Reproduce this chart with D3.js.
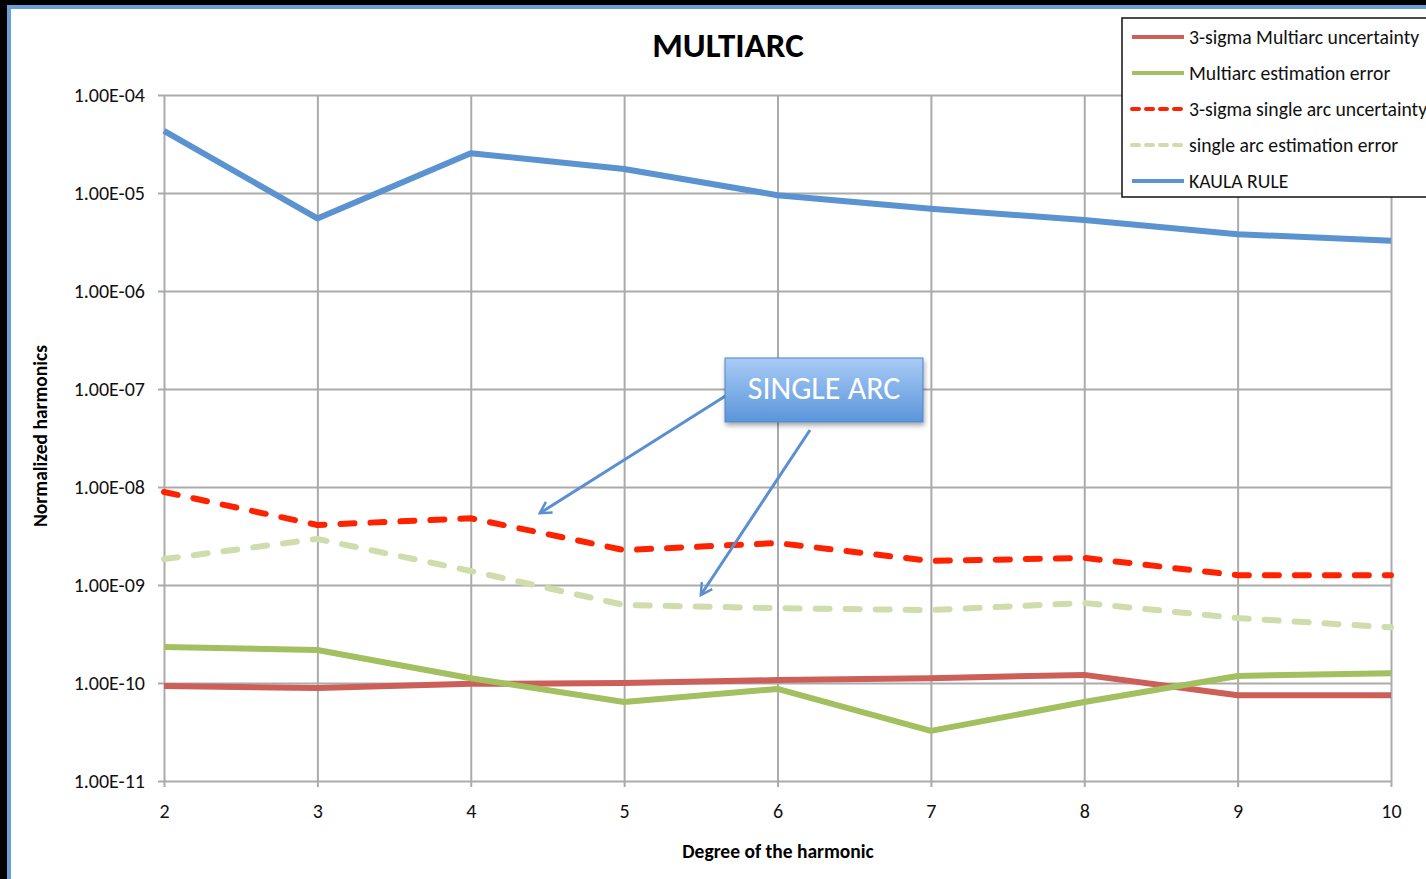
<!DOCTYPE html>
<html>
<head>
<meta charset="utf-8">
<script src="https://cdn.jsdelivr.net/npm/d3@7"></script>
<style>
  html, body { margin: 0; padding: 0; background: #fff; }
  svg { display: block; font-family: Carlito, Lato, "Open Sans", sans-serif; }
</style>
</head>
<body>
<svg id="chart" width="1426" height="879"></svg>
<script>
// Harmonic degrees (x categories)
const degrees = [2, 3, 4, 5, 6, 7, 8, 9, 10];

// Series values (normalized harmonic amplitude per degree)
const multiarcUncertainty = [9.3e-11, 8.9e-11, 9.8e-11, 1.0e-10, 1.07e-10, 1.12e-10, 1.21e-10, 7.5e-11, 7.5e-11];
const multiarcError       = [2.33e-10, 2.17e-10, 1.12e-10, 6.4e-11, 8.7e-11, 3.25e-11, 6.4e-11, 1.18e-10, 1.26e-10];
const singleArcUncertainty = [8.9e-9, 4.1e-9, 4.8e-9, 2.27e-9, 2.68e-9, 1.76e-9, 1.89e-9, 1.26e-9, 1.26e-9];
const singleArcError      = [1.84e-9, 2.95e-9, 1.39e-9, 6.25e-10, 5.8e-10, 5.55e-10, 6.55e-10, 4.6e-10, 3.7e-10];
const kaulaRule           = [4.3e-5, 5.5e-6, 2.55e-5, 1.76e-5, 9.5e-6, 6.9e-6, 5.3e-6, 3.8e-6, 3.25e-6];

// Y axis ticks and labels
const yTickValues = [1e-4, 1e-5, 1e-6, 1e-7, 1e-8, 1e-9, 1e-10, 1e-11];
const yTickLabels = ["1.00E-04", "1.00E-05", "1.00E-06", "1.00E-07", "1.00E-08", "1.00E-09", "1.00E-10", "1.00E-11"];

// Points the "SINGLE ARC" callout arrows point to (degree, value)
const calloutTargets = [[4.45, 5.4e-9], [5.5, 7.9e-10]];

const series = [
  { name: "3-sigma Multiarc uncertainty", values: multiarcUncertainty, color: "#cd5f59", dash: null },
  { name: "Multiarc estimation error", values: multiarcError, color: "#a2c05f", dash: null },
  { name: "3-sigma single arc uncertainty", values: singleArcUncertainty, color: "#ff2200", dash: "14,16" },
  { name: "single arc estimation error", values: singleArcError, color: "#cfdcac", dash: "14,16" },
  { name: "KAULA RULE", values: kaulaRule, color: "#5b93d0", dash: null }
];

const svg = d3.select("#chart");
const W = 1426, H = 879;
const FONT = "Carlito, Lato, 'Open Sans', sans-serif";

// Window frame (dark edge with blue border)
svg.append("rect").attr("x", 0).attr("y", 0).attr("width", W).attr("height", H).attr("fill", "#fff");
svg.append("rect").attr("x", 0).attr("y", 0).attr("width", W).attr("height", 5).attr("fill", "#000");
svg.append("rect").attr("x", 0).attr("y", 0).attr("width", 7).attr("height", H).attr("fill", "#000");
svg.append("rect").attr("x", 7).attr("y", 5).attr("width", W - 7).attr("height", 4).attr("fill", "#6a9fd8");
svg.append("rect").attr("x", 7).attr("y", 5).attr("width", 4).attr("height", H - 5).attr("fill", "#6a9fd8");

const x = d3.scaleLinear().domain([2, 10]).range([164, 1391]);
const y = d3.scaleLog().domain([1e-11, 1e-4]).range([781, 95]);

const gridColor = "#ababab";

// Horizontal gridlines with outward ticks + labels
const yAxis = d3.axisLeft(y)
  .tickValues(yTickValues)
  .tickSize(-(x(10) - x(2)))
  .tickSizeOuter(0)
  .tickFormat((d, i) => yTickLabels[i]);
const gy = svg.append("g").attr("transform", `translate(${x(2)},0)`).call(yAxis);
gy.select(".domain").remove();
gy.selectAll(".tick line").attr("stroke", gridColor).attr("stroke-width", 2)
  .attr("x1", -6);
gy.selectAll(".tick text").attr("x", -19).attr("font-size", 20).attr("fill", "#111")
  .attr("font-family", FONT);

// Vertical gridlines with outward ticks + labels
const xAxis = d3.axisBottom(x)
  .tickValues(degrees)
  .tickSize(-(y(1e-11) - y(1e-4)))
  .tickSizeOuter(0)
  .tickFormat(d3.format("d"));
const gx = svg.append("g").attr("transform", `translate(0,${y(1e-11)})`).call(xAxis);
gx.select(".domain").remove();
gx.selectAll(".tick line").attr("stroke", gridColor).attr("stroke-width", 2).attr("y1", 6);
gx.selectAll(".tick text").attr("y", 23).attr("font-size", 20).attr("fill", "#111")
  .attr("font-family", FONT);

// Series lines
const line = d3.line().x((d, i) => x(degrees[i])).y(d => y(d));
series.forEach(s => {
  svg.append("path")
    .attr("d", line(s.values))
    .attr("fill", "none")
    .attr("stroke", s.color)
    .attr("stroke-width", 6)
    .attr("stroke-linejoin", "round")
    .attr("stroke-linecap", s.dash ? "round" : "butt")
    .attr("stroke-dasharray", s.dash);
});

// Title
svg.append("text").attr("x", 728).attr("y", 57).attr("text-anchor", "middle")
  .attr("font-size", 35).attr("font-weight", "bold").attr("fill", "#000").text("MULTIARC");

// Axis titles
svg.append("text").attr("x", 778).attr("y", 858).attr("text-anchor", "middle")
  .attr("font-size", 19.5).attr("font-weight", "bold").attr("fill", "#000").text("Degree of the harmonic");
svg.append("text").attr("transform", "translate(47,436) rotate(-90)").attr("text-anchor", "middle")
  .attr("font-size", 19.5).attr("font-weight", "bold").attr("fill", "#000").text("Normalized harmonics");

// Legend
const lg = svg.append("g");
lg.append("rect").attr("x", 1122).attr("y", 18).attr("width", 340).attr("height", 179)
  .attr("fill", "#fff").attr("stroke", "#111").attr("stroke-width", 1.5);
series.forEach((s, i) => {
  const cy = 37 + i * 36;
  lg.append("line").attr("x1", 1132).attr("x2", 1184).attr("y1", cy).attr("y2", cy)
    .attr("stroke", s.color).attr("stroke-width", 4)
    .attr("stroke-linecap", s.dash ? "round" : "butt")
    .attr("stroke-dasharray", s.dash ? "7,7" : null);
  lg.append("text").attr("x", 1189).attr("y", cy + 7).attr("font-size", 19.7).attr("fill", "#111").text(s.name);
});

// "SINGLE ARC" callout
const defs = svg.append("defs");
const grad = defs.append("linearGradient").attr("id", "calloutFill").attr("x1", 0).attr("y1", 0).attr("x2", 0).attr("y2", 1);
grad.append("stop").attr("offset", "0%").attr("stop-color", "#a9cbf6");
grad.append("stop").attr("offset", "100%").attr("stop-color", "#5a95da");
const shadow = defs.append("filter").attr("id", "calloutShadow").attr("x", "-10%").attr("y", "-20%").attr("width", "130%").attr("height", "160%");
shadow.append("feDropShadow").attr("dx", 1).attr("dy", 3).attr("stdDeviation", 2.5).attr("flood-color", "#000").attr("flood-opacity", 0.35);
const marker = defs.append("marker").attr("id", "openArrow").attr("viewBox", "0 0 12 12")
  .attr("refX", 10).attr("refY", 6).attr("markerWidth", 5).attr("markerHeight", 5)
  .attr("markerUnits", "strokeWidth").attr("orient", "auto");
marker.append("path").attr("d", "M1,1 L10,6 L1,11").attr("fill", "none").attr("stroke", "#5b8fd0").attr("stroke-width", 2);

const calloutStarts = [[727, 395], [810, 430]];
calloutTargets.forEach((t, i) => {
  svg.append("line")
    .attr("x1", calloutStarts[i][0]).attr("y1", calloutStarts[i][1])
    .attr("x2", x(t[0])).attr("y2", y(t[1]))
    .attr("stroke", "#5b8fd0").attr("stroke-width", 3)
    .attr("marker-end", "url(#openArrow)");
});

svg.append("rect").attr("x", 725).attr("y", 358).attr("width", 198).attr("height", 64)
  .attr("fill", "url(#calloutFill)").attr("stroke", "#4f86c6").attr("stroke-width", 1)
  .attr("filter", "url(#calloutShadow)");
svg.append("text").attr("x", 824).attr("y", 399).attr("text-anchor", "middle")
  .attr("font-size", 32).attr("fill", "#fff").text("SINGLE ARC");
</script>
</body>
</html>
